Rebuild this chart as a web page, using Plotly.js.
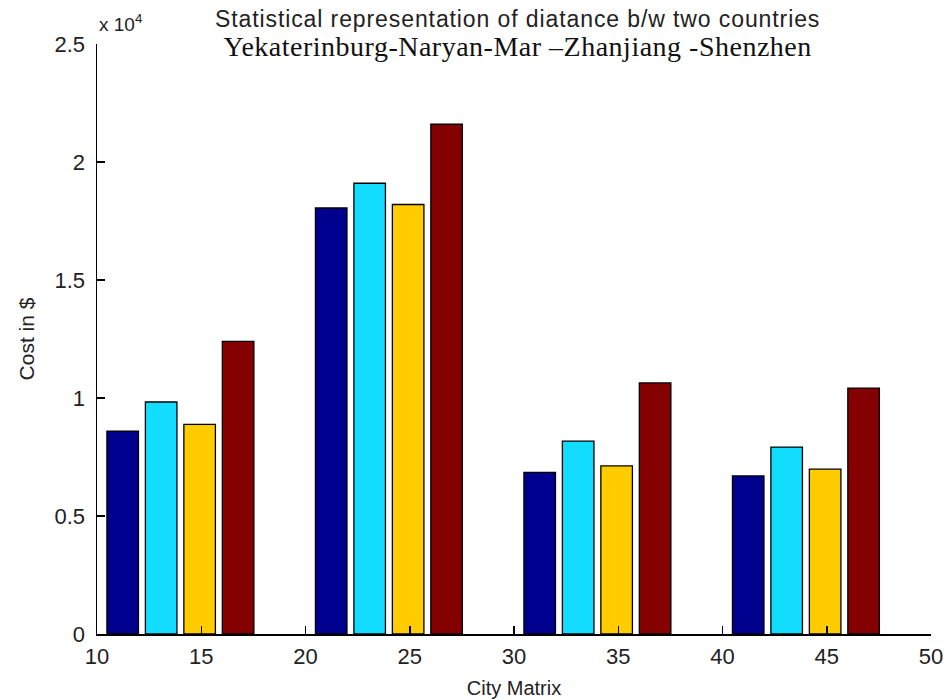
<!DOCTYPE html>
<html>
<head>
<meta charset="utf-8">
<script src="https://cdn.plot.ly/plotly-3.0.1.min.js"></script>
<style>html,body{margin:0;padding:0;background:#fff;}#chart{width:948px;height:700px;}</style>
</head>
<body>
<div id="chart"></div>
<script>
// Group positions on the City Matrix axis
var groupX = [14, 24, 34, 44];
// Cost values (in $) for the four series
var series1 = [8600, 18050, 6850, 6700];
var series2 = [9830, 19100, 8170, 7920];
var series3 = [8880, 18200, 7120, 6990];
var series4 = [12400, 21600, 10640, 10420];
var seriesNames = ['Series 1', 'Series 2', 'Series 3', 'Series 4'];
var seriesColors = ['#00008F', '#12DCFF', '#FFCC00', '#850000'];
var yTickVals = [0, 5000, 10000, 15000, 20000, 25000];
var yTickText = ['0', '0.5', '1', '1.5', '2', '2.5'];
var xTickVals = [10, 15, 20, 25, 30, 35, 40, 45, 50];
var titleLine1 = 'Statistical representation of diatance b/w two countries';
var titleLine2 = 'Yekaterinburg-Naryan-Mar \u2013Zhanjiang -Shenzhen';

var allSeries = [series1, series2, series3, series4];
var traces = allSeries.map(function (vals, i) {
  return {
    type: 'bar',
    x: groupX,
    y: vals,
    name: seriesNames[i],
    marker: { color: seriesColors[i], line: { color: '#000', width: 1.3 } },
    hoverinfo: 'x+y'
  };
});

var sans = 'Liberation Sans, Arial, sans-serif';
var tickFont = { family: sans, size: 22, color: '#222' };

var layout = {
  width: 948,
  height: 700,
  paper_bgcolor: '#fff',
  plot_bgcolor: '#fff',
  margin: { l: 97, r: 17, t: 44, b: 66 },
  showlegend: false,
  barmode: 'group',
  bargap: 0.262,
  bargroupgap: 0.18,
  xaxis: {
    range: [10, 50],
    tickvals: xTickVals,
    ticks: 'inside',
    ticklen: 8,
    tickwidth: 1.5,
    tickcolor: '#000',
    showline: true,
    linecolor: '#000',
    linewidth: 1.5,
    showgrid: false,
    zeroline: false,
    tickfont: tickFont,
    ticklabelstandoff: 2,
    title: { text: 'City Matrix', font: { family: sans, size: 20, color: '#222' }, standoff: 13 }
  },
  yaxis: {
    range: [0, 25000],
    tickvals: yTickVals,
    ticktext: yTickText,
    ticks: 'inside',
    ticklen: 8,
    tickwidth: 1.5,
    tickcolor: '#000',
    showline: true,
    linecolor: '#000',
    linewidth: 1.5,
    showgrid: false,
    zeroline: false,
    tickfont: tickFont,
    ticklabelstandoff: 6,
    title: { text: 'Cost in $', font: { family: sans, size: 21, color: '#222' }, standoff: 14 }
  },
  annotations: [
    {
      text: 'x 10<sup>4</sup>', xref: 'paper', yref: 'paper', x: 0, y: 1,
      xanchor: 'left', yanchor: 'middle', yshift: 21, showarrow: false,
      font: { family: sans, size: 19, color: '#222' }
    },
    {
      text: '<span style="font-size:23px;letter-spacing:0.9px">' + titleLine1 + '</span>' +
            '<br><span style="font-family:\'Liberation Serif\', \'Times New Roman\', serif;font-size:28px;letter-spacing:0.5px;color:#111">' + titleLine2 + '</span>',
      xref: 'paper', yref: 'paper',
      x: 0.5, y: 1, xanchor: 'center', yanchor: 'middle', align: 'center', xshift: 3, yshift: 10, showarrow: false,
      font: { family: sans, size: 22, color: '#222' }
    }
  ]
};

Plotly.newPlot('chart', traces, layout, { displayModeBar: false, staticPlot: true });
</script>
</body>
</html>
